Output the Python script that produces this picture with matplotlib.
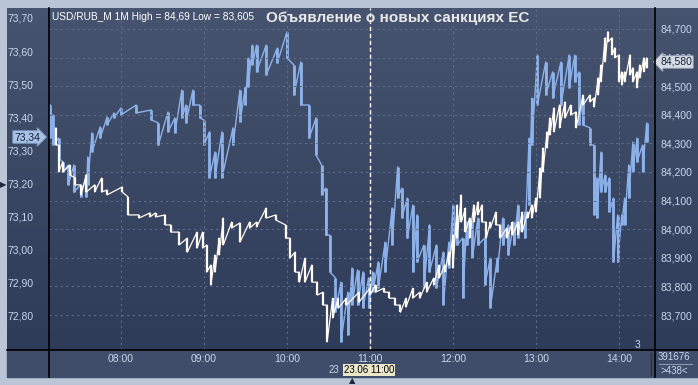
import numpy as np
import matplotlib.pyplot as plt
from matplotlib.colors import LinearSegmentedColormap
from matplotlib.patches import Rectangle
from matplotlib.lines import Line2D

plt.rcParams['font.family'] = ['Liberation Sans', 'DejaVu Sans']

title = 'Объявление о новых санкциях ЕС'
info = 'USD/RUB_M 1M High = 84,69 Low = 83,605'

# синие бары (левая шкала), время = минуты от полуночи
blue_t = [429, 431, 435, 438, 442, 446, 451, 455, 456, 459, 465, 470, 475, 480, 491, 502,
          507, 514, 519, 524, 527, 532, 537, 540, 544, 548, 553, 561, 566, 570, 572, 575,
          578, 585, 593, 600, 605, 610, 616, 621, 625, 628, 631, 635, 639, 644, 647, 651,
          655, 659, 662, 666, 671, 676, 680, 683, 687, 691, 694, 699, 703, 708, 713, 717,
          720, 723, 727, 730, 734, 738, 743, 747, 752, 756, 760, 764, 767, 772, 775, 777,
          781, 787, 792, 798, 804, 808, 811, 814, 819, 822, 824, 827, 830, 833, 836, 839,
          842, 844, 847, 850, 853, 857, 860]
blue_hi = [73.437, 73.407, 73.337, 73.265, 73.256, 73.256, 73.196, 73.226, 73.280, 73.353,
           73.371, 73.401, 73.413, 73.428, 73.437, 73.422, 73.383, 73.416, 73.398, 73.482,
           73.437, 73.482, 73.437, 73.392, 73.356, 73.295, 73.356, 73.368, 73.482, 73.492,
           73.579, 73.618, 73.618, 73.618, 73.609, 73.658, 73.558, 73.567, 73.437, 73.398,
           73.256, 73.186, 73.044, 72.915, 72.902, 72.872, 72.945, 72.939, 72.933, 72.915,
           72.933, 72.963, 73.023, 73.126, 73.250, 73.186, 73.156, 73.135, 73.105, 73.014,
           73.075, 73.014, 72.993, 73.023, 73.135, 73.105, 73.035, 73.084, 73.084, 73.096,
           73.035, 72.975, 72.975, 73.096, 73.075, 73.084, 73.135, 73.114, 73.337, 73.458,
           73.588, 73.567, 73.537, 73.567, 73.588, 73.588, 73.537, 73.458, 73.368, 73.316,
           73.217, 73.295, 73.226, 73.217, 73.156, 73.105, 73.105, 73.156, 73.256, 73.325,
           73.337, 73.316, 73.383]
blue_lo = [73.337, 73.316, 73.277, 73.235, 73.196, 73.174, 73.159, 73.159, 73.196, 73.295,
           73.337, 73.377, 73.398, 73.407, 73.413, 73.392, 73.316, 73.356, 73.353, 73.398,
           73.383, 73.437, 73.398, 73.316, 73.217, 73.217, 73.217, 73.316, 73.386, 73.437,
           73.492, 73.558, 73.537, 73.528, 73.564, 73.579, 73.467, 73.437, 73.337, 73.286,
           73.165, 73.044, 72.933, 72.812, 72.721, 72.742, 72.833, 72.833, 72.824, 72.824,
           72.872, 72.884, 72.933, 73.014, 73.156, 73.096, 73.035, 72.933, 72.963, 72.884,
           72.933, 72.884, 72.833, 72.945, 72.999, 73.014, 72.854, 73.014, 72.975, 73.014,
           72.893, 72.824, 72.933, 73.014, 72.984, 73.014, 73.035, 73.035, 73.135, 73.316,
           73.437, 73.467, 73.458, 73.437, 73.489, 73.507, 73.377, 73.377, 73.316, 73.105,
           73.096, 73.174, 73.174, 73.114, 72.963, 72.963, 73.075, 73.075, 73.156, 73.235,
           73.265, 73.235, 73.325]

# белые бары USD/RUB_M (правая шкала)
white_t = [433, 435, 438, 443, 447, 451, 455, 461, 466, 470, 481, 485, 493, 501, 505, 512,
           516, 522, 528, 535, 539, 542, 545, 548, 551, 554, 560, 566, 573, 578, 585, 592,
           599, 602, 606, 609, 613, 618, 622, 626, 629, 633, 637, 643, 652, 660, 664, 670,
           674, 678, 682, 686, 691, 696, 701, 706, 710, 714, 717, 720, 723, 726, 729, 732,
           735, 738, 741, 744, 747, 751, 754, 759, 763, 767, 770, 774, 777, 780, 783, 785,
           788, 790, 793, 797, 801, 805, 809, 814, 819, 822, 825, 827, 830, 832, 835, 837,
           840, 842, 844, 848, 850, 853, 855, 858, 860]
white_hi = [84.354, 84.294, 84.235, 84.224, 84.179, 84.155, 84.190, 84.155, 84.179, 84.137,
            84.148, 84.113, 84.050, 84.057, 84.057, 84.050, 84.015, 83.990, 83.969, 83.990,
            83.990, 83.945, 83.875, 83.910, 83.969, 84.039, 84.025, 84.022, 84.025, 84.025,
            84.074, 84.050, 84.015, 83.969, 83.920, 83.850, 83.899, 83.875, 83.815, 83.780,
            83.735, 83.759, 83.759, 83.759, 83.780, 83.794, 83.805, 83.794, 83.780, 83.759,
            83.735, 83.759, 83.794, 83.780, 83.815, 83.829, 83.875, 83.875, 83.920, 83.980,
            84.085, 84.120, 84.074, 84.039, 84.085, 84.095, 84.085, 84.025, 84.025, 84.060,
            84.015, 84.004, 84.025, 84.025, 84.060, 84.060, 84.085, 84.109, 84.214, 84.284,
            84.340, 84.389, 84.424, 84.434, 84.445, 84.434, 84.410, 84.469, 84.469, 84.459,
            84.529, 84.574, 84.669, 84.690, 84.669, 84.634, 84.609, 84.550, 84.550, 84.609,
            84.564, 84.550, 84.574, 84.599, 84.599]
white_lo = [84.294, 84.200, 84.200, 84.190, 84.155, 84.120, 84.130, 84.130, 84.130, 84.120,
            84.130, 84.050, 84.039, 84.043, 84.043, 84.015, 83.990, 83.945, 83.920, 83.934,
            83.934, 83.850, 83.805, 83.850, 83.910, 83.945, 84.004, 83.955, 84.004, 84.008,
            84.039, 84.032, 83.969, 83.899, 83.850, 83.815, 83.815, 83.815, 83.770, 83.735,
            83.606, 83.690, 83.724, 83.735, 83.745, 83.770, 83.780, 83.780, 83.759, 83.735,
            83.710, 83.728, 83.759, 83.759, 83.780, 83.805, 83.829, 83.850, 83.875, 83.864,
            83.969, 84.025, 83.990, 83.969, 84.025, 84.050, 84.025, 83.969, 84.004, 84.015,
            83.969, 83.969, 83.980, 83.980, 83.990, 84.039, 84.039, 84.060, 84.109, 84.200,
            84.284, 84.329, 84.340, 84.354, 84.389, 84.399, 84.354, 84.434, 84.445, 84.427,
            84.469, 84.515, 84.585, 84.655, 84.609, 84.599, 84.515, 84.504, 84.515, 84.539,
            84.515, 84.494, 84.529, 84.550, 84.564]

hour_ticks = [480, 540, 600, 660, 720, 780, 840]
hour_labels = ['08:00', '09:00', '10:00', '11:00', '12:00', '13:00', '14:00']
left_ticks = [73.7, 73.6, 73.5, 73.4, 73.3, 73.2, 73.1, 73.0, 72.9, 72.8]
right_ticks = [84.7, 84.6, 84.5, 84.4, 84.3, 84.2, 84.1, 84.0, 83.9, 83.8, 83.7]

W, H = 698, 385
fig = plt.figure(figsize=(6.98, 3.85), dpi=100, facecolor='#bac6d6')


def fx(p):
    return p / W


def fy(p):
    return 1 - p / H


txt = '#c9d6ec'

# фон с градиентом
bg = fig.add_axes([fx(7), fy(377), fx(698) - fx(7), fy(8) - fy(377)])
grad = np.linspace(0, 1, 256)[:, None]
cmap = LinearSegmentedColormap.from_list('bg', ['#47546f', '#2c3957'])
bg.imshow(grad, aspect='auto', cmap=cmap, extent=[0, 1, 0, 1])
bg.axis('off')
bg.set_zorder(0)

# нижняя панель времени
fig.add_artist(Rectangle((fx(7), fy(377)), fx(698) - fx(7), 27 / H,
                         transform=fig.transFigure, color='#3f4d6a', zorder=0.5))

axw = fig.add_axes([fx(49), fy(350), fx(655) - fx(49), fy(8) - fy(350)])
axb = axw.twinx()
axw.yaxis.tick_right()
axb.yaxis.tick_left()
axw.set_zorder(2)
axb.set_zorder(1)
axw.patch.set_visible(False)
axb.patch.set_visible(False)

# синие бары
bx = np.repeat(blue_t, 2)
by = np.column_stack([blue_hi, blue_lo]).ravel()
axb.plot(bx, by, color='#8db2ea', lw=1.0)
axb.vlines(blue_t, blue_lo, blue_hi, color='#8db2ea', lw=2.0)

# белые бары
wx = np.repeat(white_t, 2)
wy = np.column_stack([white_hi, white_lo]).ravel()
axw.plot(wx, wy, color='#fffaf2', lw=0.9)
axw.vlines(white_t, white_lo, white_hi, color='#fffaf2', lw=1.6)

axw.set_xlim(428, 866)
axw.set_ylim(83.578, 84.773)
axb.set_ylim(72.697, 73.730)

axw.set_xticks(hour_ticks)
axw.set_xticklabels(hour_labels)
axw.set_yticks(right_ticks)
axw.set_yticklabels([f'{v:.3f}'.replace('.', ',') for v in right_ticks])
axb.set_yticks(left_ticks)
axb.set_yticklabels([f'{v:.2f}'.replace('.', ',') for v in left_ticks])

axw.tick_params(axis='x', length=0, pad=3, labelsize=7.5, labelcolor=txt)
axw.tick_params(axis='y', length=0, pad=4, labelsize=7.5, labelcolor=txt)
axb.tick_params(axis='y', length=0, pad=11, labelsize=7.5, labelcolor=txt)
for a in (axw, axb):
    for s in a.spines.values():
        s.set_visible(False)

axw.grid(True, color='#5c6c8b', ls=(0, (2, 3)), lw=0.8, zorder=0)
axw.axvline(660, color='white', ls=(0, (3, 2)), lw=1)

# рамки
for seg in [((49, 49), (8, 377)), ((655, 655), (8, 377)), ((7, 698), (350, 350))]:
    fig.add_artist(Line2D([fx(seg[0][0]), fx(seg[0][1])], [fy(seg[1][0]), fy(seg[1][1])],
                          transform=fig.transFigure, color='black', lw=1.2, zorder=5))
fig.add_artist(Line2D([fx(651), fx(651)], [fy(353), fy(375)], transform=fig.transFigure,
                      color='#27324a', lw=1, zorder=5))
fig.add_artist(Line2D([fx(659), fx(692)], [fy(364), fy(364)], transform=fig.transFigure,
                      color='#8a98b0', lw=0.8, zorder=5))

fig.text(fx(52), fy(17), info, fontsize=7.3, color='white', va='center')
fig.text(fx(398), fy(18), title, fontsize=11, fontweight='bold', color='#e8e8e8',
         va='center', ha='center')

fig.text(fx(27), fy(137), '73,34', fontsize=7.5, color='#14233a', ha='center', va='center',
         bbox=dict(boxstyle='rarrow,pad=0.12', fc='#a8c2e6', ec='#7d9cc6', lw=0.6))
fig.text(fx(676), fy(62), '84,580', fontsize=7.5, color='#14233a', ha='center', va='center',
         bbox=dict(boxstyle='larrow,pad=0.12', fc='#d7dce4', ec='#9aa4b4', lw=0.6))

fig.text(fx(334), fy(370), '23', fontsize=7, color=txt, ha='center', va='center')
fig.text(fx(369), fy(370), '23.06 11:00', fontsize=7, color='black', ha='center',
         va='center', bbox=dict(boxstyle='square,pad=0.12', fc='#ebe7c9', ec='none'))
fig.text(fx(674), fy(357), '391676', fontsize=7, color=txt, ha='center', va='center')
fig.text(fx(674), fy(371), '>438<', fontsize=7, color=txt, ha='center', va='center')
fig.text(fx(638), fy(345), '3', fontsize=7.5, color=txt, ha='center', va='center')
fig.text(fx(3), fy(185), '▶', fontsize=6, color='#1c2840', ha='center', va='center',
         family=['DejaVu Sans'])
fig.text(fx(352), fy(381), '▲', fontsize=6, color='#1c2840', ha='center', va='center',
         family=['DejaVu Sans'])

fig.savefig('out.png', dpi=100, facecolor=fig.get_facecolor())
